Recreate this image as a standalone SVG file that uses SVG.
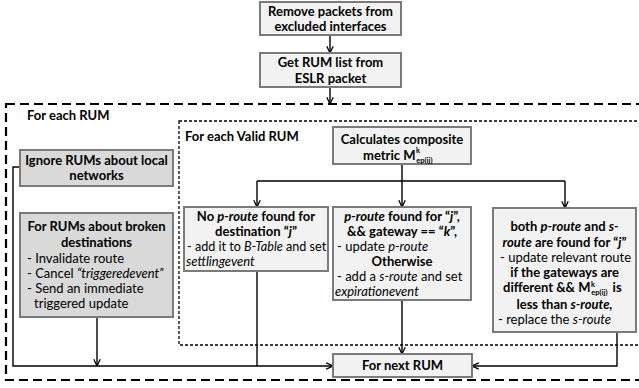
<svg xmlns="http://www.w3.org/2000/svg" width="639" height="388" viewBox="0 0 639 388">
  <style>
    .box { fill: #f2f2f2; stroke: #7a7a7a; stroke-width: 2; }
    .gbox { fill: #d9d9d9; stroke: #7a7a7a; stroke-width: 2; }
    text { font-family: Lato, "Liberation Sans", sans-serif; font-size: 13px; fill: #000; }
    .b { font-weight: bold; font-size: 13px; }
    .c { text-anchor: middle; }
    .i { font-style: italic; }
    .sm { font-size: 7.5px; font-weight: bold; }
    .wire { fill: none; stroke: #000; stroke-width: 1.4; }
    .arr { marker-end: url(#head); }
    .outer { fill: none; stroke: #000; stroke-width: 2.2; stroke-dasharray: 9 5; }
    .inner { fill: none; stroke: #000; stroke-width: 1.3; stroke-dasharray: 3 2; }
  </style>
  <defs>
    <marker id="head" viewBox="0 0 10 10" refX="9.5" refY="5" markerWidth="8" markerHeight="8" markerUnits="userSpaceOnUse" orient="auto">
      <path d="M1,1 L9.5,5 L1,9" fill="none" stroke="#000" stroke-width="1.6"/>
    </marker>
  </defs>

  <!-- loop frames -->
  <rect class="outer" x="6" y="104" width="720" height="276"/>
  <text class="b" x="27" y="120">For each RUM</text>
  <rect class="inner" x="179" y="121" width="600" height="224"/>
  <text class="b" x="185" y="141">For each Valid RUM</text>

  <g id="connectors">
    <path class="wire arr" d="M330,35 V53"/>
    <path class="wire arr" d="M330,87 V104"/>
    <path class="wire" d="M402,164 V181 M257,181 H565"/>
    <path class="wire arr" d="M257,181 V207"/>
    <path class="wire arr" d="M402,181 V207"/>
    <path class="wire arr" d="M565,181 V208"/>
    <path class="wire arr" d="M20,167 H13 V366 H333"/>
    <path class="wire arr" d="M97,317 V366"/>
    <path class="wire" d="M257,271 V366"/>
    <path class="wire arr" d="M402,300 V354"/>
    <path class="wire arr" d="M617,332 V366 H472"/>
  </g>

  <g id="remove-packets">
    <rect class="box" x="260" y="2" width="141" height="33"/>
    <text class="b c" x="330.5" y="15.5">Remove packets from</text>
    <text class="b c" x="330.5" y="31">excluded interfaces</text>
  </g>

  <g id="get-rum-list">
    <rect class="box" x="260" y="53" width="141" height="34"/>
    <text class="b c" x="330.5" y="67">Get RUM list from</text>
    <text class="b c" x="330.5" y="82.5">ESLR packet</text>
  </g>

  <g id="ignore-local">
    <rect class="gbox" x="20" y="150" width="153" height="36"/>
    <text class="b c" x="96.5" y="165">Ignore RUMs about local</text>
    <text class="b c" x="96.5" y="180">networks</text>
  </g>

  <g id="broken-destinations">
    <rect class="gbox" x="20" y="213" width="153" height="104"/>
    <text class="b c" x="96.5" y="231">For RUMs about broken</text>
    <text class="b c" x="96.5" y="247">destinations</text>
    <text x="27" y="263">- Invalidate route</text>
    <text x="27" y="278">- Cancel <tspan class="i">“triggeredevent”</tspan></text>
    <text x="27" y="293">- Send an immediate</text>
    <text x="34" y="308">triggered update</text>
  </g>

  <g id="composite-metric">
    <rect class="box" x="333" y="127" width="138" height="37"/>
    <text class="b c" x="402" y="144">Calculates composite</text>
    <text class="b" x="363" y="160">metric M<tspan class="sm" dx="0.5" dy="-7">k</tspan><tspan class="sm" dx="-3.5" dy="10">ep(ij)</tspan></text>
  </g>

  <g id="no-p-route">
    <rect class="box" x="184" y="207" width="144" height="64"/>
    <text class="b c" x="256" y="221">No <tspan class="i">p-route</tspan> found for</text>
    <text class="b c" x="256" y="236">destination “<tspan class="i">j</tspan>”</text>
    <text x="187" y="251" style="font-size:12.6px">- add it to <tspan class="i">B-Table</tspan> and set</text>
    <text class="i" x="186" y="266">settlingevent</text>
  </g>

  <g id="p-route-found">
    <rect class="box" x="333" y="207" width="138" height="93"/>
    <text class="b c" x="402" y="221"><tspan class="i">p-route</tspan> found for “<tspan class="i">j</tspan>”,</text>
    <text class="b c" x="402" y="236">&amp;&amp; gateway == “<tspan class="i">k</tspan>”,</text>
    <text x="337" y="251">- update <tspan class="i">p-route</tspan></text>
    <text class="b c" x="402" y="266">Otherwise</text>
    <text x="337" y="281">- add a <tspan class="i">s-route</tspan> and set</text>
    <text class="i" x="335" y="296">expirationevent</text>
  </g>

  <g id="both-routes">
    <rect class="box" x="493" y="208" width="143" height="124"/>
    <text class="b c" x="564.5" y="231">both <tspan class="i">p-route</tspan> and <tspan class="i">s-</tspan></text>
    <text class="b c" x="564.5" y="247"><tspan class="i">route</tspan> are found for “<tspan class="i">j</tspan>”</text>
    <text x="500" y="262">- update relevant route</text>
    <text class="b c" x="564.5" y="277">if the gateways are</text>
    <text class="b" x="503" y="292">different &amp;&amp; M<tspan class="sm" dx="0.5" dy="-5">k</tspan><tspan class="sm" dx="-3.5" dy="8">ep(ij)</tspan><tspan dx="2" dy="-3"> is</tspan></text>
    <text class="b c" x="564.5" y="309">less than <tspan class="i">s-route,</tspan></text>
    <text x="498" y="324">- replace the <tspan class="i">s-route</tspan></text>
  </g>

  <g id="next-rum">
    <rect class="box" x="333" y="354" width="139" height="23"/>
    <text class="b c" x="402.5" y="370">For next RUM</text>
  </g>
</svg>
